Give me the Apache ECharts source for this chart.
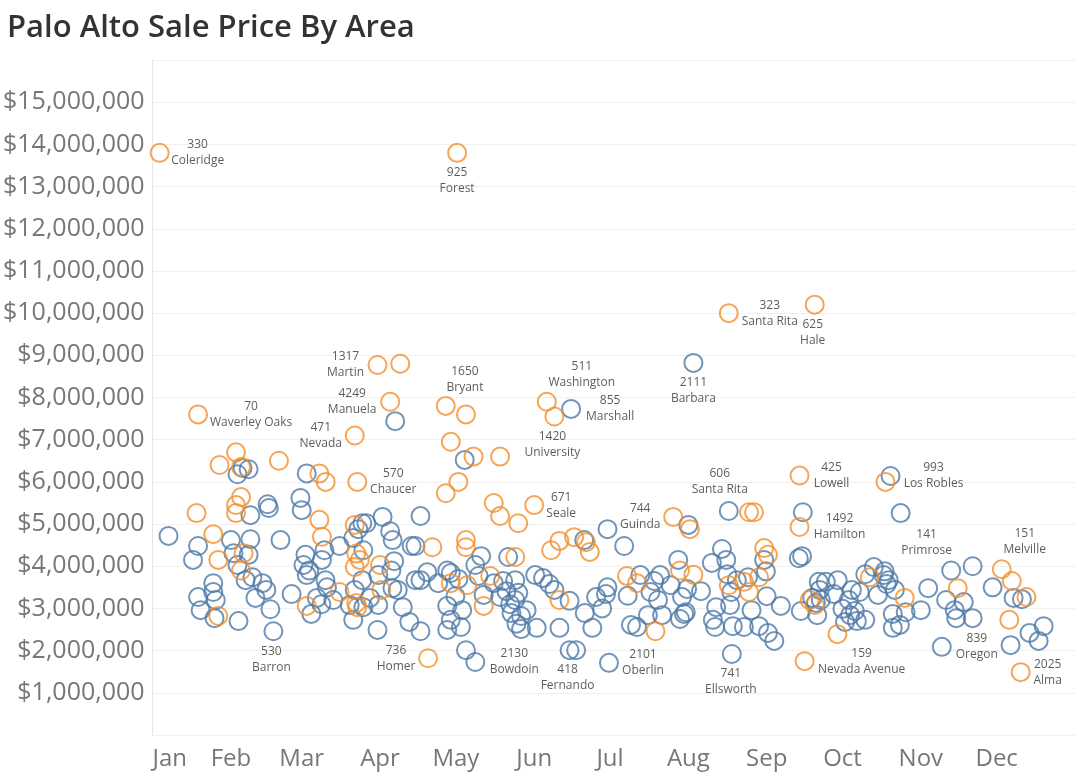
<!DOCTYPE html>
<html>
<head>
<meta charset="utf-8">
<script src="https://cdn.jsdelivr.net/npm/echarts@6/dist/echarts.min.js"></script>
<style>
  html, body { margin: 0; padding: 0; background: #fff; }
  #chart { width: 1075px; height: 776px; }
</style>
</head>
<body>
<div id="chart"></div>
<script>
// x = day of year, y = sale price in $M
var monthStarts = [0, 31, 59, 90, 120, 151, 181, 212, 243, 273, 304, 334];
var monthNames = ['Jan', 'Feb', 'Mar', 'Apr', 'May', 'Jun', 'Jul', 'Aug', 'Sep', 'Oct', 'Nov', 'Dec'];

var orangePoints = [
  [98, 8.8], [116, 7.8], [118, 6.95], [33, 6.7], [26.5, 6.4], [35, 6.35], [50, 6.5],
  [127, 6.6], [137.5, 6.6], [290, 6.0], [66, 6.2], [68.5, 6.0], [121, 6.0], [116, 5.73],
  [17.4, 5.26], [33, 5.45], [33, 5.26], [35, 5.64], [135, 5.5], [137.5, 5.19], [144.7, 5.02],
  [161, 4.6], [212.6, 4.88], [236, 5.28], [238, 5.28], [24, 4.76], [66, 5.1], [67, 4.7],
  [80, 4.98], [80.6, 4.3], [80, 3.98], [90, 4.03], [110.7, 4.45], [124, 4.62], [124, 4.45],
  [143.5, 4.22], [157.7, 4.38], [166.8, 4.69], [171.5, 4.57], [173, 4.34], [242, 4.43],
  [243.5, 4.27], [26, 4.15], [36, 4.31], [35, 3.9], [74, 3.39], [61, 3.06], [80.6, 3.13],
  [81, 3.03], [90.5, 3.44], [118, 3.6], [124.5, 3.55], [133.6, 3.77], [131, 3.06], [161, 3.2],
  [187.7, 3.77], [191.7, 3.6], [208.7, 3.9], [214, 3.8], [228, 3.55], [234, 3.63], [240, 3.74],
  [236, 3.39], [260, 3.2], [262, 3.08], [283.8, 3.74], [297.6, 3.25], [318.6, 3.48],
  [340, 3.65], [345.8, 3.27], [339, 2.73], [26, 2.82], [199, 2.46], [271, 2.39], [82, 4.15]
];

var bluePoints = [
  [6.3, 4.72], [16, 4.15], [18, 4.48], [18, 3.27], [19, 2.96], [24, 3.6], [24, 3.39], [25, 3.2],
  [24.5, 2.77], [31, 4.62], [32, 4.31], [33.6, 4.03], [34, 2.7], [33.6, 6.18], [35.6, 6.33],
  [38, 6.3], [38.7, 5.21], [38.7, 4.64], [38, 4.27], [36.8, 3.67], [39.5, 3.74], [40.7, 3.25],
  [43.5, 3.6], [45.5, 5.47], [46, 5.38], [45, 3.44], [46.6, 2.98], [50.6, 4.62], [55, 3.34],
  [58.5, 5.62], [59, 5.33], [61, 6.2], [59.7, 4.03], [60.5, 4.27], [61, 3.79], [62, 3.9],
  [62.8, 2.87], [65, 3.25], [66.8, 3.1], [67, 4.15], [68, 4.38], [68.4, 3.67], [69, 3.5],
  [71.5, 3.2], [74, 4.48], [78, 3.08], [79.4, 2.73], [79.4, 4.67], [80, 3.44], [81.4, 4.88],
  [83, 5.02], [83.4, 4.38], [83, 3.67], [83.4, 3.03], [84.6, 5.02], [86, 3.25], [89, 2.49],
  [89.3, 3.08], [89.3, 3.79], [91, 5.17], [94, 4.83], [95, 4.62], [94.5, 3.9], [95.6, 4.12],
  [94.9, 3.48], [96, 7.44], [97, 3.44], [99, 3.03], [101.6, 2.68], [102.5, 4.48], [104, 4.48],
  [106, 5.19], [104, 3.67], [106, 3.67], [106, 2.46], [108.7, 3.86], [113, 3.6], [116.6, 3.9],
  [116.6, 3.06], [116.6, 2.49], [118, 3.84], [118, 2.73], [119.8, 3.29], [121, 3.7], [122, 2.56],
  [123.5, 6.52], [122.5, 2.96], [124, 2.01], [127.7, 4.03], [129, 3.77], [130, 4.24], [131, 3.32],
  [135, 3.6], [137.5, 3.27], [138.7, 3.65], [140, 3.41], [140.7, 4.22], [141.5, 3.1], [142, 2.89],
  [143.5, 3.67], [144.7, 3.37], [143.5, 3.2], [144, 2.64], [145.8, 2.82], [145.8, 2.51], [148, 2.96],
  [151.4, 3.79], [152, 2.54], [154.5, 3.72], [157, 3.58], [159, 3.44], [161, 2.54], [165, 3.18],
  [167.6, 2.01], [170.8, 4.62], [171, 2.89], [174, 2.54], [175.5, 3.27], [177.9, 3.0], [179.4, 3.34],
  [180, 3.5], [180, 4.88], [186.6, 4.48], [188, 3.3], [189.3, 2.61], [191.7, 2.56], [193, 3.79],
  [196, 2.84], [197, 3.39], [198.5, 3.65], [200, 3.2], [200.8, 3.79], [201.6, 2.84], [205, 3.55],
  [208, 4.15], [209.5, 3.27], [210.3, 2.87], [208.7, 2.75], [211, 2.91], [212, 4.98], [211.5, 3.46],
  [217, 3.41], [221.3, 4.08], [223, 3.03], [221.7, 2.73], [222.6, 2.56], [225.3, 4.41], [227, 4.15],
  [227.4, 3.81], [229, 3.39], [228.5, 3.08], [229.6, 2.58], [231.2, 3.67], [234, 2.56], [235.6, 3.74],
  [237, 2.96], [240, 2.58], [242, 4.15], [242.7, 3.88], [243, 3.29], [243.5, 2.42], [246, 2.23],
  [248.6, 3.06], [255.7, 4.19], [257, 4.24], [256.5, 2.94], [257.3, 5.28], [261, 3.25], [262.5, 3.13],
  [263.6, 3.63], [263, 2.84], [264, 3.44], [264.4, 3.2], [266.4, 3.63], [269.6, 3.34], [271.1, 3.67],
  [273, 2.99], [274, 2.68], [275.5, 3.2], [276, 2.84], [276.7, 3.44], [277.9, 2.94], [278.7, 2.7],
  [279.8, 3.39], [282, 3.81], [282, 2.73], [285.4, 3.98], [287, 3.32], [289.3, 3.79], [289.7, 3.88],
  [290.5, 3.58], [291.3, 3.67], [293.7, 3.44], [292.9, 2.87], [292.9, 2.54], [295.7, 2.61], [298, 2.91],
  [304, 2.96], [306.9, 3.48], [314, 3.2], [316, 3.9], [317.4, 2.96], [318, 2.77], [321, 3.15],
  [324.5, 4.0], [324.5, 2.77], [332.4, 3.5], [339.5, 2.13], [340.7, 3.25], [344, 3.22], [347, 2.42],
  [350.6, 2.23], [352.6, 2.58]
];

// labelled sales: [day, price $M, street number, street]
var orangeLabeled = [
  [2.8, 13.8, '330', 'Coleridge'], [120.5, 13.8, '925', 'Forest'], [228, 10.0, '323', 'Santa Rita'],
  [262, 10.2, '625', 'Hale'], [89, 8.77, '1317', 'Martin'], [94, 7.9, '4249', 'Manuela'],
  [124, 7.6, '1650', 'Bryant'], [156, 7.9, '511', 'Washington'], [159, 7.55, '1420', 'University'],
  [18, 7.6, '70', 'Waverley Oaks'], [80, 7.1, '471', 'Nevada'], [81, 6.0, '570', 'Chaucer'],
  [256, 6.15, '425', 'Lowell'], [256, 4.93, '1492', 'Hamilton'], [109, 1.82, '736', 'Homer'],
  [258, 1.75, '159', 'Nevada Avenue'], [343.5, 1.49, '2025', 'Alma'], [336, 3.93, '151', 'Melville'],
  [151, 5.45, '671', 'Seale'], [206, 5.17, '744', 'Guinda']
];
var orangeOffsets = [
  [38, 0], [0, 28], [41, 0], [-2, 28], [-32, 0], [-38, 0], [-1, -35], [35, -27], [-2, 28],
  [53, 0], [-34, 0], [36, 0], [32, 0], [40, 0], [-32, 0], [57, 0], [27, 0], [23, -28], [27, 0], [-33, 0]
];
var blueLabeled = [
  [165.6, 7.73, '855', 'Marshall'], [292, 6.14, '993', 'Los Robles'], [214, 8.82, '2111', 'Barbara'],
  [228, 5.31, '606', 'Santa Rita'], [296, 5.26, '141', 'Primrose'], [47.8, 2.46, '530', 'Barron'],
  [127.7, 1.73, '2130', 'Bowdoin'], [165, 2.01, '418', 'Fernando'], [180.6, 1.71, '2101', 'Oberlin'],
  [229.2, 1.92, '741', 'Ellsworth'], [312.3, 2.09, '839', 'Oregon']
];
var blueOffsets = [
  [39, 0], [43, 0], [0, 28], [-9, -29], [26, 29], [-2, 28], [39, 0], [-2, 27], [34, 0], [-1, 28], [35, 0]
];

function buildData(points, labeled, offsets) {
  var out = points.map(function (p) { return [p[0], p[1] * 1e6]; });
  labeled.forEach(function (p, i) {
    out.push({
      value: [p[0], p[1] * 1e6],
      label: {
        show: true,
        formatter: p[2] + '\n' + p[3],
        offset: offsets[i]
      }
    });
  });
  return out;
}

function money(v) {
  return '$' + v.toString().replace(/\B(?=(\d{3})+(?!\d))/g, ',');
}

var labelStyle = {
  position: 'inside',
  color: '#333',
  fontSize: 12,
  lineHeight: 16,
  fontFamily: 'Open Sans',
  align: 'center'
};

var option = {
  animation: false,
  textStyle: { fontFamily: 'Open Sans' },
  title: {
    text: 'Palo Alto Sale Price By Area',
    left: 2,
    top: 8,
    textStyle: { fontSize: 31, fontWeight: 600, color: '#333', fontFamily: 'Open Sans' }
  },
  grid: { left: 152, right: 0, top: 60, bottom: 41 },
  xAxis: {
    type: 'value',
    min: 0,
    max: 365,
    axisLine: { show: false },
    axisTick: { show: false },
    splitLine: { show: false },
    axisLabel: {
      customValues: monthStarts,
      alignMinLabel: 'left',
      fontSize: 24,
      color: '#777',
      margin: 12,
      formatter: function (v) { return monthNames[monthStarts.indexOf(v)] || ''; }
    }
  },
  yAxis: {
    type: 'value',
    min: 0,
    max: 16000000,
    interval: 1000000,
    axisLine: { show: true, lineStyle: { color: '#e6e6e6' } },
    axisTick: { show: false },
    splitLine: { lineStyle: { color: '#f0f0f0' } },
    axisLabel: {
      fontSize: 25,
      color: '#777',
      margin: 8,
      formatter: function (v) { return (v === 0 || v === 16000000) ? '' : money(v); }
    }
  },
  series: [
    {
      type: 'scatter',
      symbol: 'circle',
      symbolSize: 18,
      itemStyle: { color: 'rgba(255,255,255,0)', borderColor: '#4e79a7', borderWidth: 2 },
      label: labelStyle,
      data: buildData(bluePoints, blueLabeled, blueOffsets)
    },
    {
      type: 'scatter',
      symbol: 'circle',
      symbolSize: 18,
      itemStyle: { color: 'rgba(255,255,255,0)', borderColor: '#f28e2b', borderWidth: 2 },
      label: labelStyle,
      data: buildData(orangePoints, orangeLabeled, orangeOffsets)
    }
  ]
};

var chart = echarts.init(document.getElementById('chart'));
chart.setOption(option);
</script>
</body>
</html>
